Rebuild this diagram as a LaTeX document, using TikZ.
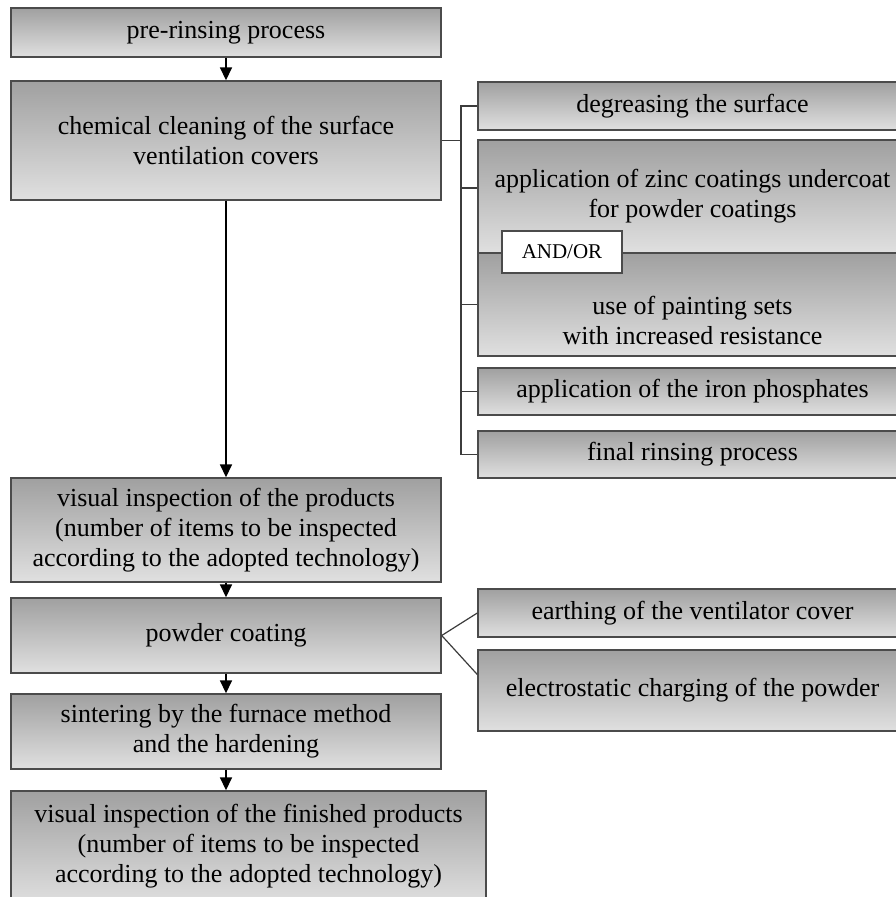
\documentclass[tikz,border=0pt]{standalone}
\usepackage{fontspec}
\setmainfont{Liberation Serif}
\usetikzlibrary{arrows.meta}
\definecolor{boxtop}{RGB}{160,160,160}
\definecolor{boxbot}{RGB}{224,224,224}
\definecolor{edge}{RGB}{75,75,75}
\definecolor{wire}{RGB}{60,60,60}
\begin{document}
\begin{tikzpicture}[x=1pt,y=-1pt,
  box/.style={draw=edge, line width=1.4pt, top color=boxtop, bottom color=boxbot,
    rectangle, inner sep=0pt, align=center, font=\fontsize{26}{30}\selectfont},
  txt/.style={inner sep=0pt, align=center, font=\fontsize{26}{30}\selectfont},
  andorbox/.style={draw=edge, line width=1.4pt, fill=white, rectangle, inner sep=0pt,
    minimum width=120pt, minimum height=42pt, font=\fontsize{21}{24}\selectfont},
  arr/.style={line width=1.6pt, -{Triangle[width=12pt,length=13pt]}},
  wireline/.style={draw=wire, line width=1.2pt}
]
\useasboundingbox (0,0) rectangle (896,897);
\clip (0,0) rectangle (896,897);
\fill[white] (0,0) rectangle (896,897);

% main column
\node[box, minimum width=430pt, minimum height=49pt] (pre) at (226,32.5) {pre-rinsing process};
\node[box, minimum width=430pt, minimum height=119pt] (chem) at (226,140.5) {chemical cleaning of the surface\\ventilation covers};
\node[box, minimum width=430pt, minimum height=104pt] (vis) at (226,530) {visual inspection of the products\\(number of items to be inspected\\according to the adopted technology)};
\node[box, minimum width=430pt, minimum height=75pt] (powder) at (226,635.5) {powder coating};
\node[box, minimum width=430pt, minimum height=75pt] (sinter) at (226,731.5) {sintering by the furnace method\\and the hardening};
\node[box, minimum width=475pt, minimum height=114pt] (final) at (248.5,848) {};
\node[txt] (finaltext) at (248.5,846) {visual inspection of the finished products\\(number of items to be inspected\\according to the adopted technology)};

% right column
\node[box, minimum width=429pt, minimum height=48pt] (degr) at (692.5,106) {degreasing the surface};
\node[box, minimum width=429pt, minimum height=113pt] (zinc) at (692.5,196.5) {application of zinc coatings undercoat\\for powder coatings};
\node[box, minimum width=429pt, minimum height=103pt] (paint) at (692.5,304.5) {};
\node[txt] (painttext) at (692.5,320) {use of painting sets\\with increased resistance};
\node[andorbox] (andor) at (562,252) {AND/OR};
\node[box, minimum width=429pt, minimum height=47pt] (iron) at (692.5,391.5) {application of the iron phosphates};
\node[box, minimum width=429pt, minimum height=47pt] (rinse) at (692.5,454.5) {final rinsing process};
\node[box, minimum width=429pt, minimum height=48pt] (earth) at (692.5,613) {earthing of the ventilator cover};
\node[box, minimum width=429pt, minimum height=81pt] (elec) at (692.5,690.5) {electrostatic charging of the powder};

% bracket
\coordinate (btop) at (461,106);
\draw[wireline] (chem.east) -- (chem.east -| btop);
\draw[wireline] (degr.west) -| (rinse.west -| btop) -- (rinse.west);
\draw[wireline] ([yshift=8.5pt]zinc.west) -- ([yshift=8.5pt]zinc.west -| btop);
\draw[wireline] (paint.west) -- (paint.west -| btop);
\draw[wireline] (iron.west) -- (iron.west -| btop);

% powder branches
\draw[wireline] (powder.east) -- (earth.west);
\draw[wireline] (powder.east) -- ([yshift=16pt]elec.west);

% arrows
\draw[arr] (pre.south) -- (chem.north);
\draw[arr] (chem.south) -- (vis.north);
\draw[arr] (vis.south) -- (powder.north);
\draw[arr] (powder.south) -- (sinter.north);
\draw[arr] (sinter.south) -- (sinter.south |- final.north);
\end{tikzpicture}
\end{document}
